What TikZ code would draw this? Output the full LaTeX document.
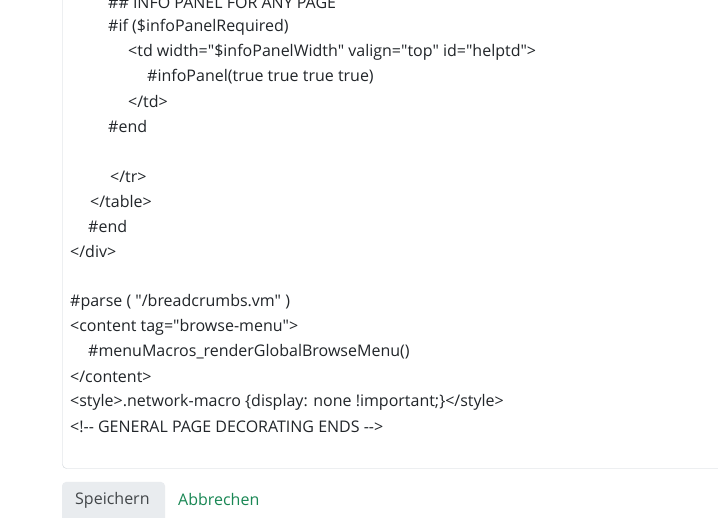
\documentclass[tikz,border=0pt]{standalone}
\usepackage{fontspec}
\setmainfont{Open Sans}[Ligatures=TeXOff]
\definecolor{txt}{HTML}{212529}
\definecolor{bord}{HTML}{CED4DA}
\definecolor{btn}{HTML}{E9ECEF}
\definecolor{grn}{HTML}{198754}
\begin{document}
\begin{tikzpicture}[x=1pt,y=-1pt,
  code/.style={anchor=west,inner sep=0pt,text=txt,font=\fontsize{16}{18}\selectfont}]
\useasboundingbox (0,0) rectangle (718,518);
\fill[white] (0,0) rectangle (718,518);
\draw[bord,rounded corners=4pt] (62.5,-5) -- (62.5,468.5) -- (719,468.5);
\node[code] (l1) at (108,3) {\#\# INFO PANEL FOR ANY PAGE};
\node[code] (l2) at (108,27) {\#if (\$infoPanelRequired)};
\node[code] (l3) at (128,52) {<td width="\$infoPanelWidth" valign="top" id="helptd">};
\node[code] (l4) at (147,77) {\#infoPanel(true true true true)};
\node[code] (l5) at (128,102) {</td>};
\node[code] (l6) at (108,127) {\#end};
\node[code] (l7) at (110,177) {</tr>};
\node[code] (l8) at (90,202) {</table>};
\node[code] (l9) at (88,227) {\#end};
\node[code] (l10) at (70,252) {</div>};
\node[code] (l11) at (70,302) {\#parse ( "/breadcrumbs.vm" )};
\node[code] (l12) at (70,327) {<content tag="browse-menu">};
\node[code] (l13) at (88,352) {\#menuMacros\_renderGlobalBrowseMenu()};
\node[code] (l14) at (70,377) {</content>};
\node[code] (l15) at (70,402) {<style>.network-macro \{display: none !important;\}</style>};
\node[code] (l16) at (70,427) {<!-- GENERAL PAGE DECORATING ENDS -->};
\fill[btn,rounded corners=4pt] (62,482) rectangle (165,522);
\node[code,text=txt!85] (save) at (75,500) {Speichern};
\node[code,text=grn] (cancel) at (178,500) {Abbrechen};
\end{tikzpicture}
\end{document}
